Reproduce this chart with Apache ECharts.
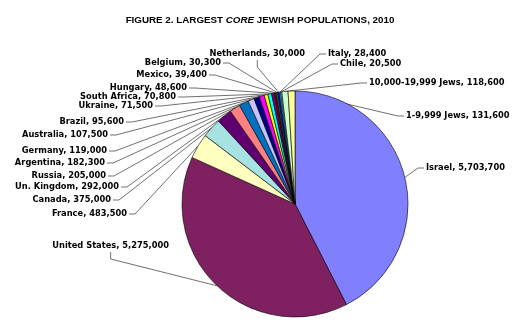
<!DOCTYPE html>
<html>
<head>
<meta charset="utf-8">
<script src="https://cdn.jsdelivr.net/npm/echarts@6/dist/echarts.min.js"></script>
<style>
html,body{margin:0;padding:0;background:#fff;}
#chart{width:520px;height:332px;}
</style>
</head>
<body>
<div id="chart"></div>
<script>
// ---- data ----
var categories = ['Israel','United States','France','Canada','Un. Kingdom','Russia','Argentina','Germany','Australia','Brazil','Ukraine','South Africa','Hungary','Mexico','Belgium','Netherlands','Italy','Chile','10,000-19,999 Jews','1-9,999 Jews'];
var populations = [5703700,5275000,483500,375000,292000,205000,182300,119000,107500,95600,71500,70800,48600,39400,30300,30000,28400,20500,118600,131600];
var sliceColors = ['#8080FF','#7F2060','#FFFFC0','#A6E2E2','#600070','#FF8080','#0070C0','#C4C4FF','#000080','#FF00FF','#FFFF00','#00FFFF','#800080','#800000','#008080','#0000FF','#00CCFF','#CCFFFF','#CCFFCC','#FFFF99'];
var titleParts = ['FIGURE 2. LARGEST ', 'CORE', ' JEWISH POPULATIONS, 2010'];

// ---- label layout (x, y, align, line anchor) ----
var labelPos = {
  'Israel': [426,168,'left','end'],
  'United States': [169,246,'right','bottom'],
  'France': [127,214,'right','end'],
  'Canada': [111,200,'right','end'],
  'Un. Kingdom': [119,187,'right','end'],
  'Russia': [106,176,'right','end'],
  'Argentina': [105,163,'right','end'],
  'Germany': [107,151,'right','end'],
  'Australia': [108,135,'right','end'],
  'Brazil': [124,122,'right','end'],
  'Ukraine': [153,106,'right','end'],
  'South Africa': [176,97,'right','end'],
  'Hungary': [187,88,'right','end'],
  'Mexico': [207,75,'right','end'],
  'Belgium': [221,63,'right','end'],
  'Netherlands': [305,54,'right','bottom'],
  'Italy': [328,54,'left','end'],
  'Chile': [340,64,'left','end'],
  '10,000-19,999 Jews': [369,83,'left','end'],
  '1-9,999 Jews': [406,116,'left','end']
};

function fmt(v){ return String(v).replace(/\B(?=(\d{3})+(?!\d))/g, ','); }

var chart = echarts.init(document.getElementById('chart'), null, {renderer:'canvas'});
var data = categories.map(function(c,i){ return {name:c, value:populations[i], itemStyle:{color:sliceColors[i]}}; });

chart.setOption({
  animation:false,
  backgroundColor:'#fff',
  title:{
    left:'center', top:10,
    text:'{b|'+titleParts[0]+'}{i|'+titleParts[1]+'}{b|'+titleParts[2]+'}',
    textStyle:{
      rich:{
        b:{fontFamily:'Liberation Sans, Arial, sans-serif',fontWeight:'bold',fontSize:9.8,color:'#000'},
        i:{fontFamily:'Liberation Sans, Arial, sans-serif',fontWeight:'bold',fontStyle:'italic',fontSize:9.8,color:'#000'}
      }
    }
  },
  series:[{
    type:'pie',
    center:[295,204],
    radius:113,
    startAngle:90,
    clockwise:true,
    avoidLabelOverlap:false,
    minShowLabelAngle:0,
    data:data,
    itemStyle:{borderColor:'#000',borderWidth:0.6},
    label:{
      show:true,
      position:'outer',
      formatter:function(p){ return p.name+', '+fmt(p.value); },
      fontFamily:'DejaVu Sans, Verdana, sans-serif',
      fontWeight:'bold',
      fontSize:8.3,
      color:'#000'
    },
    labelLine:{show:true, length:5, length2:5, lineStyle:{color:'#333',width:0.7}},
    labelLayout:function(params){
      var name = categories[params.dataIndex];
      var p = labelPos[name];
      var w = params.labelRect.width;
      var start = params.labelLinePoints ? params.labelLinePoints[0] : null;
      var pts;
      if (p[3]==='bottom'){
        var cx = p[2]==='right' ? p[0]-w/2 : p[0]+w/2;
        pts = [start,[cx,p[1]+13],[cx,p[1]+6]];
      } else if (p[2]==='right'){
        pts = [start,[p[0]+8,p[1]],[p[0]+2,p[1]]];
      } else {
        pts = [start,[p[0]-8,p[1]],[p[0]-2,p[1]]];
      }
      var out = {x:p[0], y:p[1], align:p[2], verticalAlign:'middle'};
      if (start) out.labelLinePoints = pts;
      return out;
    }
  }]
});
</script>
</body>
</html>
